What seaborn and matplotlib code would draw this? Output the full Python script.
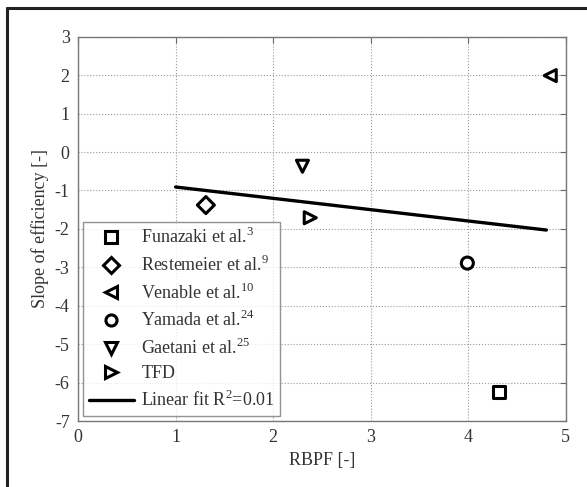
import numpy as np
import pandas as pd
import matplotlib
matplotlib.use("Agg")
import matplotlib.pyplot as plt
import seaborn as sns
from matplotlib.lines import Line2D

# data
sources = ["Funazaki et al.$^{3}$", "Restemeier et al.$^{9}$",
           "Venable et al.$^{10}$", "Yamada et al.$^{24}$",
           "Gaetani et al.$^{25}$", "TFD"]
rbpf = [4.31, 1.31, 4.84, 3.99, 2.30, 2.38]
slope = [-6.24, -1.38, 1.99, -2.89, -0.37, -1.71]
markers = ["s", "D", "<", "o", "v", ">"]

fit_x = [1.0, 4.8]
fit_y = [-0.91, -2.03]
fit_label = "Linear fit R$^{2}$=0.01"

sns.set_style("white")
plt.rcParams['font.family'] = ['Liberation Serif', 'DejaVu Serif']
plt.rcParams['mathtext.fontset'] = 'custom'
plt.rcParams['mathtext.rm'] = 'Liberation Serif'
plt.rcParams['axes.unicode_minus'] = False

df = pd.DataFrame({"RBPF": rbpf, "slope": slope, "source": sources})

fig = plt.figure(figsize=(5.87, 4.87), dpi=100)
ax = fig.add_axes([0.133, 0.1355, 0.831, 0.789])

sns.scatterplot(data=df, x="RBPF", y="slope", style="source",
                markers=dict(zip(sources, markers)), color="white",
                edgecolor="black", linewidth=2.2, s=75, ax=ax, legend=False,
                zorder=3)
sns.lineplot(x=fit_x, y=fit_y, color="black", linewidth=2.4, ax=ax,
             zorder=2)

ax.set_xlim(0, 5)
ax.set_ylim(-7, 3)
ax.set_xticks(range(0, 6))
ax.set_yticks(range(-7, 4))
ax.grid(True, linestyle=":", color="#999999", linewidth=0.8)
ax.tick_params(direction="in", length=4, color="#666666", labelsize=13,
               labelcolor="#333333", top=True, right=True, pad=6)
for sp in ax.spines.values():
    sp.set_color("#777777")
    sp.set_linewidth(1.0)
ax.set_xlabel("RBPF [-]", fontsize=13, color="#333333", labelpad=4)
ax.set_ylabel("Slope of efficiency [-]", fontsize=13, color="#333333",
              labelpad=4)

handles = [Line2D([], [], marker=m, linestyle="none", markerfacecolor="white",
                  markeredgecolor="black", markeredgewidth=2.2, markersize=8)
           for m in markers]
handles.append(Line2D([], [], color="black", linewidth=2.4))
leg = ax.legend(handles, sources + [fit_label], loc="lower left",
                fontsize=13, frameon=True, fancybox=False,
                borderaxespad=0.3, borderpad=0.3, handlelength=2.5,
                handletextpad=0.4, labelspacing=0.42)
leg.get_frame().set_edgecolor("#777777")
leg.get_frame().set_linewidth(1.0)
for t in leg.get_texts():
    t.set_color("#333333")

# outer frame, only top and left edges visible
fig.add_artist(Line2D([0.012, 0.012], [0, 0.984], transform=fig.transFigure,
                      color="#222222", linewidth=2.2))
fig.add_artist(Line2D([0.012, 1.0], [0.984, 0.984], transform=fig.transFigure,
                      color="#222222", linewidth=2.2))

fig.savefig("out.png", dpi=100)
